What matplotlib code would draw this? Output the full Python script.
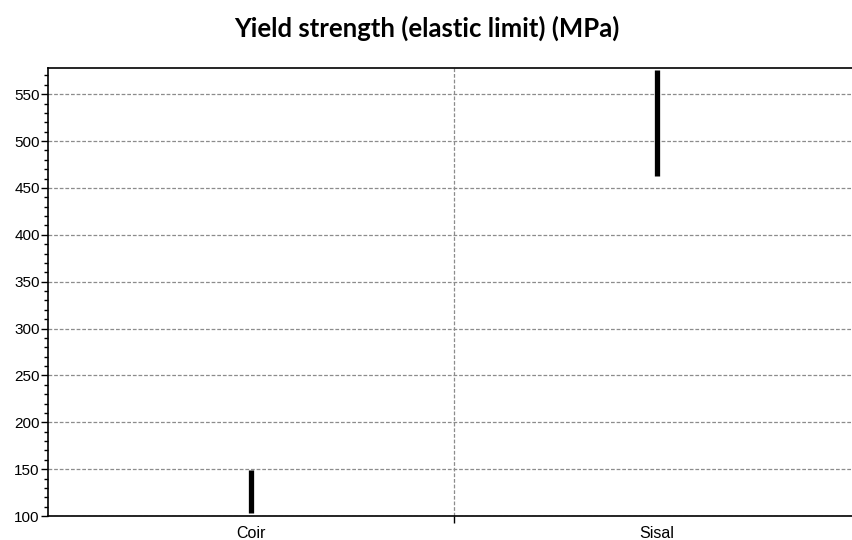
import matplotlib.pyplot as plt
from matplotlib.ticker import MultipleLocator

# yield strength ranges per fibre (MPa)
materials = ["Coir", "Sisal"]
low = [103, 463]
high = [149, 576]

plt.rcParams['font.family'] = ['Liberation Sans', 'DejaVu Sans']

fig = plt.figure(figsize=(8.53, 5.40), dpi=100)
ax = fig.add_axes([48 / 853, 24 / 540, 812 / 853, 448 / 540])

x = range(len(materials))
ax.vlines(x, low, high, colors='black', linewidth=3.8, zorder=3)

ax.set_xlim(-0.5, len(materials) - 0.5)
ax.set_ylim(100, 578)

ax.yaxis.set_major_locator(MultipleLocator(50))
ax.yaxis.set_minor_locator(MultipleLocator(10))
ax.set_xticks(list(x))
ax.set_xticklabels(materials)
ax.set_xticks([0.5], minor=True)

ax.tick_params(axis='y', which='major', length=5, width=1, labelsize=11, pad=1)
ax.tick_params(axis='y', which='minor', length=3, width=1)
ax.tick_params(axis='x', which='major', length=0, labelsize=11.5, pad=7)
ax.tick_params(axis='x', which='minor', length=5, width=1)

ax.grid(True, axis='y', which='major', color='#8c8c8c', linestyle=(0, (3, 1.5)), linewidth=0.9)
ax.grid(True, axis='x', which='minor', color='#8c8c8c', linestyle=(0, (3, 1.5)), linewidth=0.9)
ax.set_axisbelow(True)

ax.spines['right'].set_visible(False)
for side in ['left', 'top', 'bottom']:
    ax.spines[side].set_linewidth(1.2)

fig.text(0.5, 1 - 28 / 540, "Yield strength (elastic limit) (MPa)",
         ha='center', va='center', fontsize=18.5, fontweight='bold',
         family=['Lato', 'DejaVu Sans'])

fig.savefig('out.png', dpi=100)
